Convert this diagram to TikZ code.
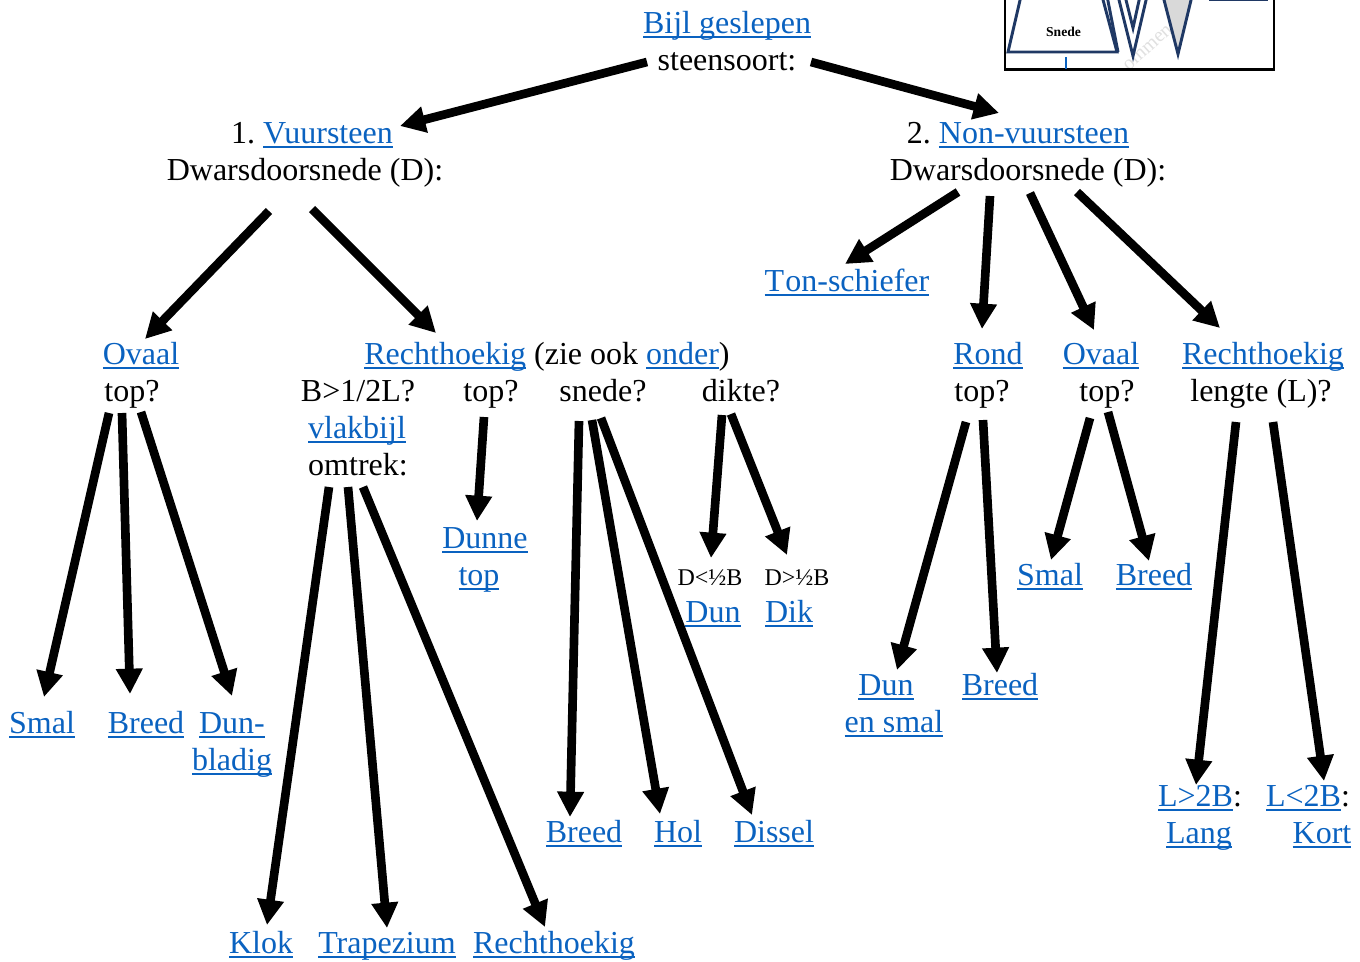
\documentclass[tikz,border=0pt]{standalone}
\usepackage{fontspec}
\setmainfont{Liberation Serif}
\usetikzlibrary{arrows.meta}
\definecolor{linkblauw}{HTML}{0A62C0}
\definecolor{lijnblauw}{HTML}{1F3864}
\newcommand{\lnk}[1]{{\color{linkblauw}\setbox0=\hbox{#1}\rlap{\rule[-3.4pt]{\wd0}{1.2pt}}\box0}}
\frenchspacing
\begin{document}
\begin{tikzpicture}[x=0.75pt,y=-0.75pt]
		\tikzstyle{tekst}=[inner sep=0pt,anchor=base,font=\fontsize{24pt}{28pt}\selectfont]
		\tikzstyle{klein}=[inner sep=0pt,anchor=base,font=\fontsize{18pt}{21pt}\selectfont]
		\tikzstyle{pijl}=[line width=6.5pt,-{Triangle[length=19pt,width=19pt]}]
		\tikzstyle{schets}=[draw=lijnblauw,line width=2.2pt,miter limit=20]
		
		\useasboundingbox (0,0) rectangle (1360,961);
		
		% schets rechtsboven
		\begin{scope}
		\clip (0,0) rectangle (1360,961);
		\node[rotate=42,text=black!12,font=\fontsize{15pt}{17pt}\selectfont] (merk) at (1148,48) {ommen};
		\draw[schets] (1021,-4)--(1008,52)--(1117,52)--(1102,-4);
		\draw[schets] (1107,-4)--(1118,52);
		\draw[schets] (1118,-4)--(1133,56)--(1147,-4);
		\draw[schets] (1125,-4)--(1133,28)--(1140,-4);
		\draw[schets,fill=black!15] (1163,-4)--(1178,54)--(1192,-4);
		\draw[draw=lijnblauw,line width=1.5pt] (1209,0)--(1268,0);
		\draw[black,line width=1.6pt] (1005,-4)--(1005,69.5)--(1274,69.5)--(1274,-4);
		\draw[linkblauw,line width=1.5pt] (1066,57)--(1066,69);
		\node[inner sep=0pt,anchor=base,font=\fontsize{10.2pt}{12pt}\bfseries\selectfont] (snede0) at (1063.5,36.5) {Snede};
		\end{scope}
		
		% bovenste niveau
		\node (bijl) at (727,33) [tekst] {\lnk{Bijl geslepen}};
		\node (steen) at (727,70) [tekst] {steensoort:};
		
		\node (vuur) at (312,143) [tekst] {1. \lnk{Vuursteen}};
		\node (dwars1) at (305,180) [tekst] {Dwarsdoorsnede (D):};
		\node (nonvuur) at (1018,143) [tekst] {2. \lnk{Non-vuursteen}};
		\node (dwars2) at (1028,180) [tekst] {Dwarsdoorsnede (D):};
		
		% vuursteen
		\node (ovaal1) at (141,364) [tekst] {\lnk{Ovaal}};
		\node (top1) at (132,401) [tekst] {top?};
		\node (recht1) at (547,364) [tekst] {\lnk{Rechthoekig} (zie ook \lnk{onder})};
		\node (verh) at (358,401) [tekst] {B>1/2L?};
		\node (vlak) at (357,438) [tekst] {\lnk{vlakbijl}};
		\node (omtrek) at (358,475) [tekst] {omtrek:};
		\node (top2) at (491,401) [tekst] {top?};
		\node (snede) at (603,401) [tekst] {snede?};
		\node (dikte) at (741,401) [tekst] {dikte?};
		
		\node (smal1) at (42,733) [tekst] {\lnk{Smal}};
		\node (breed1) at (146,733) [tekst] {\lnk{Breed}};
		\node (dunb) at (232,733) [tekst] {\lnk{Dun-}};
		\node (bladig) at (232,770) [tekst] {\lnk{bladig}};
		\node (klok) at (261,953) [tekst] {\lnk{Klok}};
		\node (trap) at (387,953) [tekst] {\lnk{Trapezium}};
		\node (recht3) at (554,953) [tekst] {\lnk{Rechthoekig}};
		\node (dunne) at (485,548) [tekst] {\lnk{Dunne}};
		\node (dtop) at (479,585) [tekst] {\lnk{top}};
		\node (breed2) at (584,842) [tekst] {\lnk{Breed}};
		\node (hol) at (678,842) [tekst] {\lnk{Hol}};
		\node (dissel) at (774,842) [tekst] {\lnk{Dissel}};
		\node (dl) at (710,585) [klein] {D<½B};
		\node (dg) at (797,585) [klein] {D>½B};
		\node (dun1) at (713,622) [tekst] {\lnk{Dun}};
		\node (dik) at (789,622) [tekst] {\lnk{Dik}};
		
		% non-vuursteen
		\node (ton) at (847,291) [tekst] {\lnk{T\kern0.8pt on-schiefer}};
		\node (rond) at (988,364) [tekst] {\lnk{Rond}};
		\node (top3) at (982,401) [tekst] {top?};
		\node (ovaal2) at (1101,364) [tekst] {\lnk{Ovaal}};
		\node (top4) at (1107,401) [tekst] {top?};
		\node (recht2) at (1263,364) [tekst] {\lnk{Rechthoekig}};
		\node (lengte) at (1261,401) [tekst] {lengte (L)?};
		
		\node (dun3) at (886,695) [tekst] {\lnk{Dun}};
		\node (ensmal) at (894,732) [tekst] {\lnk{en smal}};
		\node (breed3) at (1000,695) [tekst] {\lnk{Breed}};
		\node (smal2) at (1050,585) [tekst] {\lnk{Smal}};
		\node (breed4) at (1154,585) [tekst] {\lnk{Breed}};
		\node (lg) at (1200,806) [tekst] {\lnk{L>2B}:};
		\node (lang) at (1199,843) [tekst] {\lnk{Lang}};
		\node (lk) at (1308,806) [tekst] {\lnk{L<2B}:};
		\node (kort) at (1322,843) [tekst] {\lnk{Kort}};
		
		% pijlen
		\draw[pijl] ([shift={(-80,-8)}]steen.base)--([shift={(88,-17)}]vuur.base);
		\draw[pijl] ([shift={(84,-8)}]steen.base)--([shift={(-19,-30)}]nonvuur.base);
		
		\draw[pijl] ([shift={(-36,31)}]dwars1.base)--([shift={(4,-25)}]ovaal1.base);
		\draw[pijl] ([shift={(7,29)}]dwars1.base)--([shift={(-111,-31)}]recht1.base);
		
		\draw[pijl] ([shift={(-70,12)}]dwars2.base)--([shift={(-2,-27)}]ton.base);
		\draw[pijl] ([shift={(-38,16)}]dwars2.base)--([shift={(-6,-35)}]rond.base);
		\draw[pijl] ([shift={(2,13)}]dwars2.base)--([shift={(-7,-34)}]ovaal2.base);
		\draw[pijl] ([shift={(49,12)}]dwars2.base)--([shift={(-43,-36)}]recht2.base);
		
		\draw[pijl] ([shift={(-23,12)}]top1.base)--([shift={(2,-36)}]smal1.base);
		\draw[pijl] ([shift={(-10,12)}]top1.base)--([shift={(-16,-39)}]breed1.base);
		\draw[pijl] ([shift={(9,11)}]top1.base)--([shift={(0,-37)}]dunb.base);
		
		\draw[pijl] ([shift={(-29,12)}]omtrek.base)--([shift={(6,-28)}]klok.base);
		\draw[pijl] ([shift={(-10,12)}]omtrek.base)--([shift={(0,-25)}]trap.base);
		\draw[pijl] ([shift={(5,12)}]omtrek.base)--([shift={(-9,-26)}]recht3.base);
		
		\draw[pijl] ([shift={(-7,16)}]top2.base)--([shift={(-8,-27)}]dunne.base);
		
		\draw[pijl] ([shift={(-24,20)}]snede.base)--([shift={(-14,-25)}]breed2.base);
		\draw[pijl] ([shift={(-11,19)}]snede.base)--([shift={(-18,-28)}]hol.base);
		\draw[pijl] ([shift={(-2,17)}]snede.base)--([shift={(-22,-27)}]dissel.base);
		
		\draw[pijl] ([shift={(-19,14)}]dikte.base)--([shift={(1,-27)}]dl.base);
		\draw[pijl] ([shift={(-10,13)}]dikte.base)--([shift={(-10,-30)}]dg.base);
		
		\draw[pijl] ([shift={(-16,21)}]top3.base)--([shift={(11,-25)}]dun3.base);
		\draw[pijl] ([shift={(1,19)}]top3.base)--([shift={(-3,-22)}]breed3.base);
		
		\draw[pijl] ([shift={(-17,17)}]top4.base)--([shift={(1,-25)}]smal2.base);
		\draw[pijl] ([shift={(1,11)}]top4.base)--([shift={(-5,-24)}]breed4.base);
		
		\draw[pijl] ([shift={(-25,21)}]lengte.base)--([shift={(-4,-21)}]lg.base);
		\draw[pijl] ([shift={(12,21)}]lengte.base)--([shift={(16,-25)}]lk.base);
\end{tikzpicture}
\end{document}
